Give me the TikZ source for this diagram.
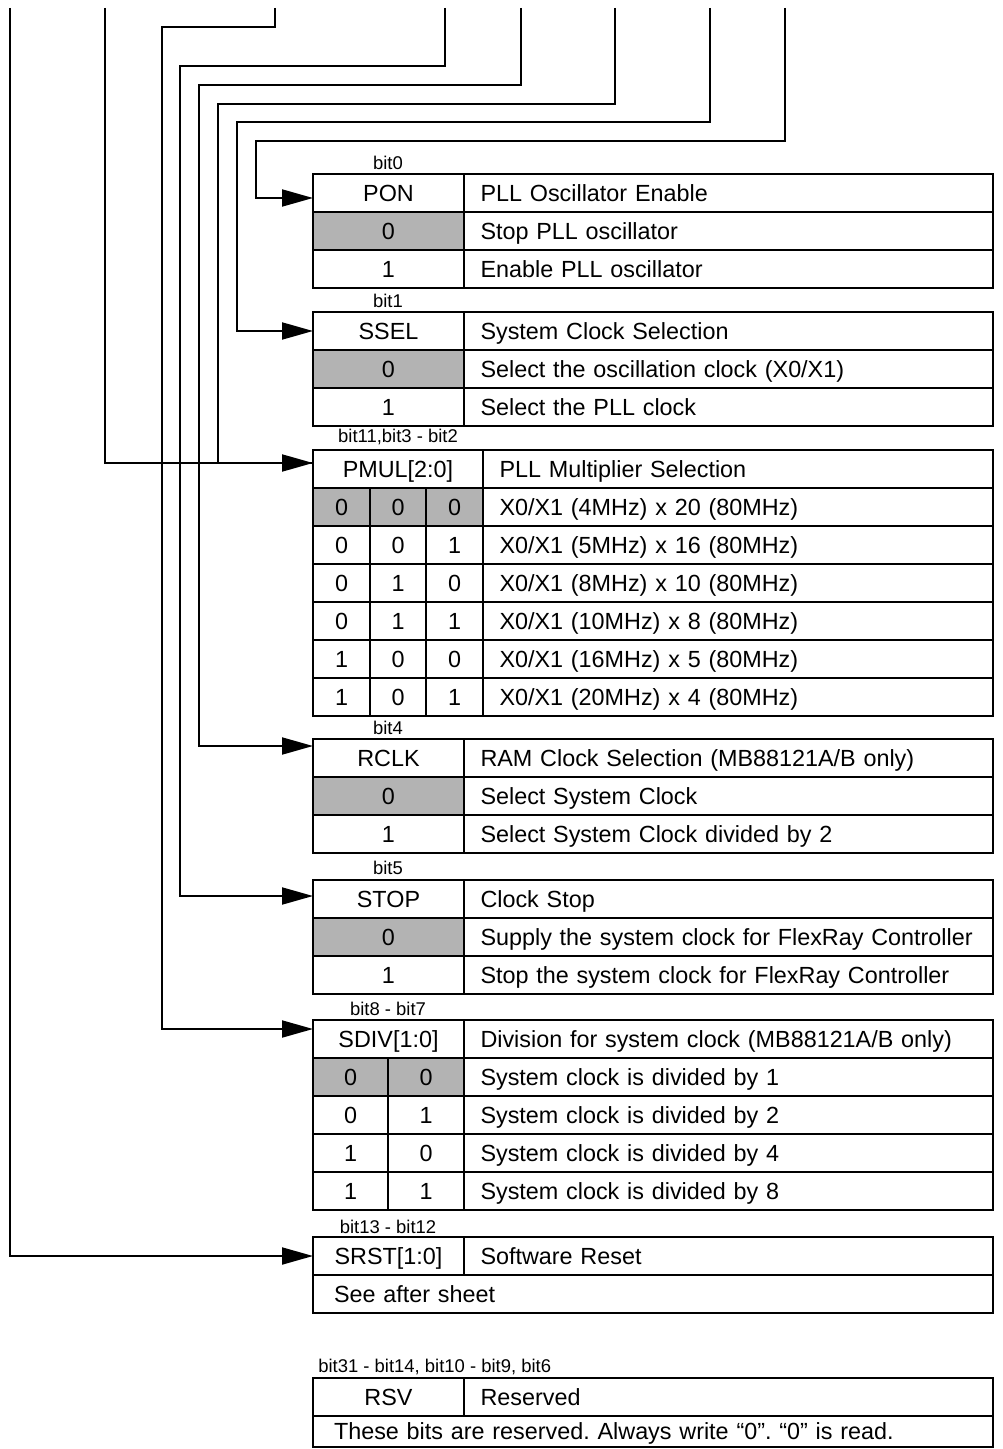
\documentclass[tikz,border=0pt]{standalone}
\usepackage{fontspec}
\setmainfont{Liberation Sans}
\usepackage{tikz}
\usetikzlibrary{positioning, arrows.meta}
\frenchspacing

\begin{document}
\begin{tikzpicture}[x=0.02cm, y=0.02cm,
    cell/.style={draw, line width=1.1pt, inner sep=0pt, outer sep=0pt, minimum height=0.76cm,
        anchor=north west, text height=9.6pt, text depth=0pt, font=\fontsize{13.3}{16}\selectfont},
    keycell/.style={cell, minimum width=3.02cm},
    desccell/.style={cell, inner xsep=0.33cm, text width=#1, align=left},
    desccell/.default=9.92cm,
    widecell/.style={cell, inner xsep=0.42cm, text width=12.76cm, align=left},
    dflt/.style={fill=cellgray},
    bitlbl/.style={font=\fontsize{10.5}{12}\selectfont, inner sep=0pt},
    wire/.style={line width=1.1pt},
    feed/.style={wire, -{Triangle[length=0.62cm, width=0.34cm]}}]

    % Colours
    \definecolor{cellgray}{RGB}{179, 179, 179}

    \useasboundingbox (0, 0) rectangle (1002, -1449);

    % PON - bit0
    \node[bitlbl] (ponbit) at (388, -163) {bit0};
    \node[keycell] (pon) at (313, -174) {PON};
    \node[desccell] (ponhd) at (464, -174) {PLL Oscillator Enable};
    \node[keycell, dflt] (pon0) at (313, -212) {0};
    \node[desccell] (pon0d) at (464, -212) {Stop PLL oscillator};
    \node[keycell] (pon1) at (313, -250) {1};
    \node[desccell] (pon1d) at (464, -250) {Enable PLL oscillator};

    % SSEL - bit1
    \node[bitlbl] (sselbit) at (388, -301) {bit1};
    \node[keycell] (ssel) at (313, -312) {SSEL};
    \node[desccell] (sselhd) at (464, -312) {System Clock Selection};
    \node[keycell, dflt] (ssel0) at (313, -350) {0};
    \node[desccell] (ssel0d) at (464, -350) {Select the oscillation clock (X0/X1)};
    \node[keycell] (ssel1) at (313, -388) {1};
    \node[desccell] (ssel1d) at (464, -388) {Select the PLL clock};

    % PMUL - bit11, bit3 - bit2
    \node[bitlbl] (pmulbit) at (398, -437) {bit11,bit3 - bit2};
    \node[keycell, minimum width=3.4cm] (pmul) at (313, -450) {PMUL[2:0]};
    \node[desccell=9.54cm] (pmulhd) at (483, -450) {PLL Multiplier Selection};
    \foreach \y/\a/\b/\c/\f/\mhz/\mul in {488/0/0/0/cellgray/4/20, 526/0/0/1/white/5/16,
        564/0/1/0/white/8/10, 602/0/1/1/white/10/8, 640/1/0/0/white/16/5, 678/1/0/1/white/20/4} {
        \node[cell, fill=\f, minimum width=1.14cm] (pm\mul a) at (313, -\y) {\a};
        \node[cell, fill=\f, minimum width=1.12cm] (pm\mul b) at (370, -\y) {\b};
        \node[cell, fill=\f, minimum width=1.14cm] (pm\mul c) at (426, -\y) {\c};
        \node[desccell=9.54cm] (pm\mul d) at (483, -\y) {X0/X1 (\mhz MHz) x \mul\ (80MHz)};
    }

    % RCLK - bit4
    \node[bitlbl] (rclkbit) at (388, -728) {bit4};
    \node[keycell] (rclk) at (313, -739) {RCLK};
    \node[desccell] (rclkhd) at (464, -739) {RAM Clock Selection (MB88121A/B only)};
    \node[keycell, dflt] (rclk0) at (313, -777) {0};
    \node[desccell] (rclk0d) at (464, -777) {Select System Clock};
    \node[keycell] (rclk1) at (313, -815) {1};
    \node[desccell] (rclk1d) at (464, -815) {Select System Clock divided by 2};

    % STOP - bit5
    \node[bitlbl] (stopbit) at (388, -868) {bit5};
    \node[keycell] (stop) at (313, -880) {STOP};
    \node[desccell] (stophd) at (464, -880) {Clock Stop};
    \node[keycell, dflt] (stop0) at (313, -918) {0};
    \node[desccell] (stop0d) at (464, -918) {Supply the system clock for FlexRay Controller};
    \node[keycell] (stop1) at (313, -956) {1};
    \node[desccell] (stop1d) at (464, -956) {Stop the system clock for FlexRay Controller};

    % SDIV - bit8 - bit7
    \node[bitlbl] (sdivbit) at (388, -1009) {bit8 - bit7};
    \node[keycell] (sdiv) at (313, -1020) {SDIV[1:0]};
    \node[desccell] (sdivhd) at (464, -1020) {Division for system clock (MB88121A/B only)};
    \foreach \y/\a/\b/\f/\dv in {1058/0/0/cellgray/1, 1096/0/1/white/2, 1134/1/0/white/4, 1172/1/1/white/8} {
        \node[cell, fill=\f, minimum width=1.5cm] (sd\dv a) at (313, -\y) {\a};
        \node[cell, fill=\f, minimum width=1.52cm] (sd\dv b) at (388, -\y) {\b};
        \node[desccell] (sd\dv d) at (464, -\y) {System clock is divided by \dv};
    }

    % SRST - bit13 - bit12
    \node[bitlbl] (srstbit) at (388, -1227) {bit13 - bit12};
    \node[keycell] (srst) at (313, -1237) {SRST[1:0]};
    \node[desccell] (srsthd) at (464, -1237) {Software Reset};
    \node[widecell] (srstnote) at (313, -1275) {See after sheet};

    % RSV - reserved bits
    \node[bitlbl, anchor=west] (rsvbit) at (318, -1367) {bit31 - bit14, bit10 - bit9, bit6};
    \node[keycell] (rsv) at (313, -1378) {RSV};
    \node[desccell] (rsvhd) at (464, -1378) {Reserved};
    \node[widecell, minimum height=0.62cm] (rsvnote) at (313, -1416) {These bits are reserved. Always write “0”. “0” is read.};

    % Incoming register lines
    \coordinate (insrst) at (10, -8);
    \coordinate (inpmulhi) at (105, -8);
    \coordinate (insdiv) at (275, -8);
    \coordinate (instop) at (445, -8);
    \coordinate (inrclk) at (521, -8);
    \coordinate (inpmul) at (615, -8);
    \coordinate (inssel) at (710, -8);
    \coordinate (inpon) at (785, -8);

    \coordinate (sdivbend) at (162, -27);
    \coordinate (stopbend) at (180, -66);
    \coordinate (rclkbend) at (199, -85);
    \coordinate (pmulbend) at (218, -104);
    \coordinate (sselbend) at (237, -122);
    \coordinate (ponbend) at (256, -141);

    \draw[feed] (inpon) |- (ponbend) |- ([yshift=-0.1cm]pon.west);
    \draw[feed] (inssel) |- (sselbend) |- (ssel.west);
    \draw[wire] (inpmul) |- (pmulbend) |- ([yshift=0.12cm]pmul.west);
    \draw[feed] (inpmulhi) |- ([yshift=0.12cm]pmul.west);
    \draw[feed] (inrclk) |- (rclkbend) |- ([yshift=0.24cm]rclk.west);
    \draw[feed] (instop) |- (stopbend) |- ([yshift=0.06cm]stop.west);
    \draw[feed] (insdiv) |- (sdivbend) |- ([yshift=0.2cm]sdiv.west);
    \draw[feed] (insrst) |- (srst.west);

\end{tikzpicture}
\end{document}
